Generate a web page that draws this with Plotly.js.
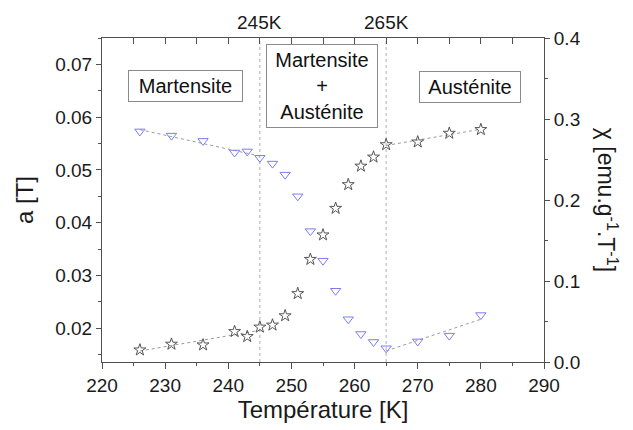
<!DOCTYPE html>
<html>
<head>
<meta charset="utf-8">
<script src="https://cdn.plot.ly/plotly-3.0.1.min.js"></script>
<style>html,body{margin:0;padding:0;background:#fff;}#chart{width:633px;height:430px;}</style>
</head>
<body>
<div id="chart"></div>
<script>
// Temperature [K]
var temperature = [226,231,236,241,243,245,247,249,251,253,255,257,259,261,263,265,270,275,280];
// a [T] (left axis, open down-triangles)
var aValues = [0.0573,0.0565,0.0555,0.0533,0.0535,0.0523,0.0512,0.0491,0.0450,0.0384,0.0328,0.0271,0.0217,0.0189,0.0174,0.0162,0.0175,0.0186,0.0225];
// chi [emu.g-1.T-1] (right axis, open stars)
var chiValues = [0.0149,0.0220,0.0211,0.0376,0.0314,0.0431,0.0456,0.0571,0.0845,0.1267,0.1569,0.1897,0.2190,0.2418,0.2530,0.2683,0.2717,0.2824,0.2870];
// transition temperatures
var transitions = [245,265];
var transitionLabels = ['245K','265K'];
// phase boxes
var phaseNames = ['Martensite','Martensite<br>+<br>Austénite','Austénite'];
var phaseX = [233.2,254.9,278.3];

function linFit(xs, ys, lo, hi) {
  var px = [], py = [];
  for (var i = 0; i < xs.length; i++) if (xs[i] >= lo && xs[i] <= hi) { px.push(xs[i]); py.push(ys[i]); }
  var n = px.length, mx = 0, my = 0;
  for (var i = 0; i < n; i++) { mx += px[i]; my += py[i]; }
  mx /= n; my /= n;
  var sxy = 0, sxx = 0;
  for (var i = 0; i < n; i++) { sxy += (px[i]-mx)*(py[i]-my); sxx += (px[i]-mx)*(px[i]-mx); }
  var b = sxy / sxx, a0 = my - b*mx;
  var x0 = Math.min.apply(null, px), x1 = Math.max.apply(null, px);
  return {x: [x0, x1], y: [a0 + b*x0, a0 + b*x1]};
}

var tMin = Math.min.apply(null, temperature), tMax = Math.max.apply(null, temperature);
var fitA1 = linFit(temperature, aValues, tMin, transitions[0]);
var fitA2 = linFit(temperature, aValues, transitions[1], tMax);
var fitC1 = linFit(temperature, chiValues, tMin, transitions[0]);
var fitC2 = linFit(temperature, chiValues, transitions[1], tMax);

var fitLine = {color: '#9a9a9a', width: 1, dash: 'dot'};
var triColor = '#7c7cf0';
var starColor = '#555555';

var traces = [
  {x: fitA1.x, y: fitA1.y, mode: 'lines', line: fitLine, xaxis: 'x', yaxis: 'y', hoverinfo: 'skip'},
  {x: fitA2.x, y: fitA2.y, mode: 'lines', line: fitLine, xaxis: 'x', yaxis: 'y', hoverinfo: 'skip'},
  {x: fitC1.x, y: fitC1.y, mode: 'lines', line: fitLine, xaxis: 'x', yaxis: 'y2', hoverinfo: 'skip'},
  {x: fitC2.x, y: fitC2.y, mode: 'lines', line: fitLine, xaxis: 'x', yaxis: 'y2', hoverinfo: 'skip'},
  {x: temperature, y: aValues, mode: 'markers', name: 'a', xaxis: 'x', yaxis: 'y',
   marker: {symbol: 'triangle-down-open', size: 9, color: triColor, line: {width: 1, color: triColor}}},
  {x: temperature, y: chiValues, mode: 'markers', name: 'chi', xaxis: 'x', yaxis: 'y2',
   marker: {symbol: 'star-open', size: 9, color: starColor, line: {width: 1, color: starColor}}},
  {x: [transitions[0]], y: [null], mode: 'markers', xaxis: 'x2', yaxis: 'y', hoverinfo: 'skip'}
];

var font = {family: '"Liberation Sans", Arial, sans-serif', color: '#1a1a1a'};
var axisColor = '#505050';

var shapes = transitions.map(function (t) {
  return {type: 'line', xref: 'x', yref: 'paper', x0: t, x1: t, y0: 0, y1: 1,
          line: {color: '#b0b0b0', width: 1, dash: 'dot'}, layer: 'below'};
});

function box(i, yc, w, h) {
  return {text: phaseNames[i], x: phaseX[i], y: yc, xref: 'x', yref: 'paper', showarrow: false,
          xanchor: 'center', yanchor: 'middle',
          font: {family: font.family, color: '#111', size: 20}, bordercolor: '#8a8a8a', borderwidth: 1,
          bgcolor: '#fff', width: w, height: h, borderpad: 2};
}

var annotations = [
  box(0, 0.853, 109, 26),
  box(1, 0.853, 106, 78),
  box(2, 0.850, 96, 26),
  {text: 'χ [emu.g<sup>-1</sup>.T<sup>-1</sup>]', x: 1.143, y: 0.5, xref: 'paper', yref: 'paper',
   showarrow: false, textangle: 90, xanchor: 'center', yanchor: 'middle',
   font: {family: font.family, color: '#1a1a1a', size: 23}}
];
transitions.forEach(function (t, i) {
  annotations.push({text: transitionLabels[i], x: t, y: 1, xref: 'x', yref: 'paper', showarrow: false,
    xanchor: 'center', yanchor: 'bottom', yshift: 3, font: {family: font.family, color: '#1a1a1a', size: 19}});
});

var layout = {
  width: 633, height: 430,
  margin: {l: 102, r: 89, t: 38, b: 68},
  paper_bgcolor: '#fff', plot_bgcolor: '#fff',
  showlegend: false,
  font: {family: font.family, color: font.color, size: 19},
  xaxis: {
    range: [220, 290], dtick: 10, tick0: 220,
    ticks: 'outside', ticklen: 6, tickwidth: 1, tickcolor: axisColor,
    minor: {dtick: 5, ticks: 'outside', ticklen: 3, tickcolor: axisColor, showgrid: false},
    showline: true, linecolor: axisColor, linewidth: 1,
    showgrid: false, zeroline: false,
    tickfont: {size: 19},
    title: {text: 'Température [K]', font: {size: 24}, standoff: 6}
  },
  xaxis2: {
    overlaying: 'x', side: 'top', anchor: 'y',
    range: [220, 290], dtick: 5, tick0: 220, showticklabels: false,
    ticks: 'inside', ticklen: 6, tickwidth: 1, tickcolor: axisColor,
    showline: true, linecolor: axisColor, linewidth: 1,
    showgrid: false, zeroline: false
  },
  yaxis: {
    range: [0.0136, 0.075], dtick: 0.01, tick0: 0, tickformat: '.2f',
    ticks: 'outside', ticklen: 5, tickwidth: 1, tickcolor: axisColor,
    minor: {dtick: 0.005, ticks: 'outside', ticklen: 3, tickcolor: axisColor, showgrid: false},
    showline: true, linecolor: axisColor, linewidth: 1,
    showgrid: false, zeroline: false, tickfont: {size: 19},
    title: {text: 'a [T]', font: {size: 24}, standoff: 14}
  },
  yaxis2: {
    overlaying: 'y', side: 'right', anchor: 'x',
    range: [0, 0.4], dtick: 0.1, tick0: 0, tickformat: '.1f',
    ticks: 'outside', ticklen: 5, tickwidth: 1, tickcolor: axisColor,
    minor: {dtick: 0.05, ticks: 'outside', ticklen: 3, tickcolor: axisColor, showgrid: false},
    showline: true, linecolor: axisColor, linewidth: 1,
    showgrid: false, zeroline: false, tickfont: {size: 19}
  },
  shapes: shapes,
  annotations: annotations
};

Plotly.newPlot('chart', traces, layout, {staticPlot: true, displayModeBar: false});
</script>
</body>
</html>
